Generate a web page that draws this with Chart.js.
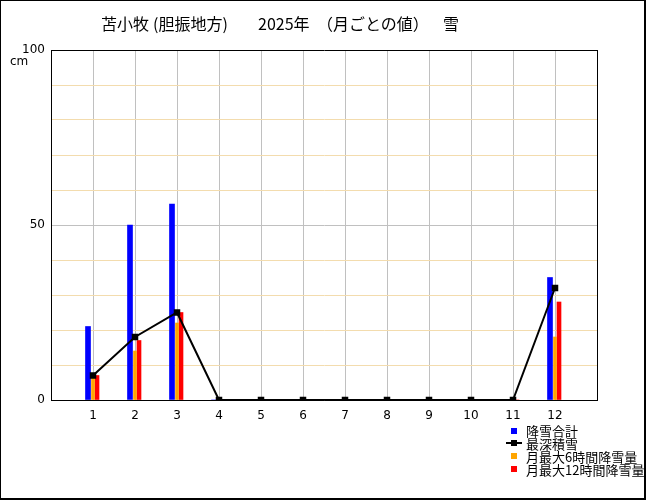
<!DOCTYPE html>
<html><head><meta charset="utf-8">
<script src="https://cdn.jsdelivr.net/npm/chart.js@4.4.1/dist/chart.umd.min.js"></script>
<style>
body{margin:0;background:#fff;}
#wrap{position:relative;width:646px;height:500px;overflow:hidden;}
#frame{position:absolute;left:0;top:0;width:643px;height:497px;border-style:solid;border-color:#000;border-width:1px 2px 2px 1px;pointer-events:none;}
canvas{position:absolute;left:0;top:0;}
.t{position:absolute;font-family:"Noto Sans CJK JP";color:#000;white-space:pre;line-height:1;}
.title{font-size:16px;top:15px;}
.lg{font-size:13px;left:526px;}
.sq{position:absolute;width:6px;height:6px;}
</style></head>
<body>
<div id="wrap">
<canvas id="c" width="646" height="500"></canvas>
<div id="frame"></div>
<div class="t title" style="left:101px">苫小牧</div>
<div class="t title" style="left:153px">(胆振地方)</div>
<div class="t title" style="left:258px">2025年</div>
<div class="t title" style="left:317px">（月ごとの値）</div>
<div class="t title" style="left:443px">雪</div>
<div class="t" style="left:10px;top:55px;font-size:12px;font-family:'DejaVu Sans'">cm</div>
<div class="sq" style="left:511px;top:428px;background:#0000ff"></div>
<div class="t lg" style="top:424px">降雪合計</div>
<div style="position:absolute;left:506px;top:442px;width:16px;height:2px;background:#000"></div>
<div style="position:absolute;left:511px;top:440px;width:6px;height:6px;background:#000"></div>
<div class="t lg" style="top:437px">最深積雪</div>
<div class="sq" style="left:511px;top:453px;background:#ffa500"></div>
<div class="t lg" style="top:450px">月最大6時間降雪量</div>
<div class="sq" style="left:511px;top:466px;background:#ff0000"></div>
<div class="t lg" style="top:463px">月最大12時間降雪量</div>
</div>
<script>
const months = [1,2,3,4,5,6,7,8,9,10,11,12];
const snowfallTotal = [21,50,56,0,0,0,0,0,0,0,0,35];
const snowDepthMax  = [7,18,25,0,0,0,0,0,0,0,0,32];
const max6h         = [7,14,22,0,0,0,0,0,0,0,0,18];
const max12h        = [7,17,25,0,0,0,0,0,0,0,0,28];
const yTickLabels   = [0,50,100];

const pts = arr => months.map((m,i)=>({x:m,y:arr[i]}));

new Chart(document.getElementById('c'), {
  data: {
    datasets: [
      {type:'line', label:'最深積雪', data:pts(snowDepthMax), borderColor:'#000', borderWidth:2,
       pointStyle:'rect', pointRadius:4.6, pointBackgroundColor:'#000', pointBorderWidth:0, tension:0, order:0},
      {type:'bar', label:'降雪合計', data:pts(snowfallTotal), backgroundColor:'#0000ff', barThickness:5, order:1},
      {type:'bar', label:'月最大6時間降雪量', data:pts(max6h), backgroundColor:'#ffa500', barThickness:3, order:1},
      {type:'bar', label:'月最大12時間降雪量', data:pts(max12h), backgroundColor:'#ff0000', barThickness:4, order:1}
    ]
  },
  options: {
    responsive:false, animation:false, devicePixelRatio:1,
    layout:{padding:{left:0, top:50, right:49, bottom:0}},
    plugins:{legend:{display:false}, tooltip:{enabled:false}, title:{display:false}},
    scales:{
      x:{type:'linear', min:0, max:13, offset:false,
         afterFit: s => { s.height = 100; },
         border:{display:true, color:'#000'},
         grid:{offset:false, drawTicks:false, color: c => !c.tick ? '#000' : ((c.tick.value===0||c.tick.value===13)?'#000':'#c0c0c0')},
         ticks:{stepSize:1, padding:9, color:'#000', font:{family:'DejaVu Sans', size:12},
                callback: v => months.includes(v) ? String(v) : ''}},
      y:{min:0, max:100,
         afterFit: s => { s.width = 51; },
         border:{display:true, color:'#000'},
         grid:{drawTicks:false, color: c => !c.tick ? '#000' : ((c.tick.value===0||c.tick.value===100)?'#000':(c.tick.value===50?'#c0c0c0':'#f3dcae'))},
         ticks:{stepSize:10, padding:6, color:'#000', font:{family:'DejaVu Sans', size:12},
                callback: v => yTickLabels.includes(v) ? String(v) : ''}}
    }
  }
});
</script>
</body></html>
